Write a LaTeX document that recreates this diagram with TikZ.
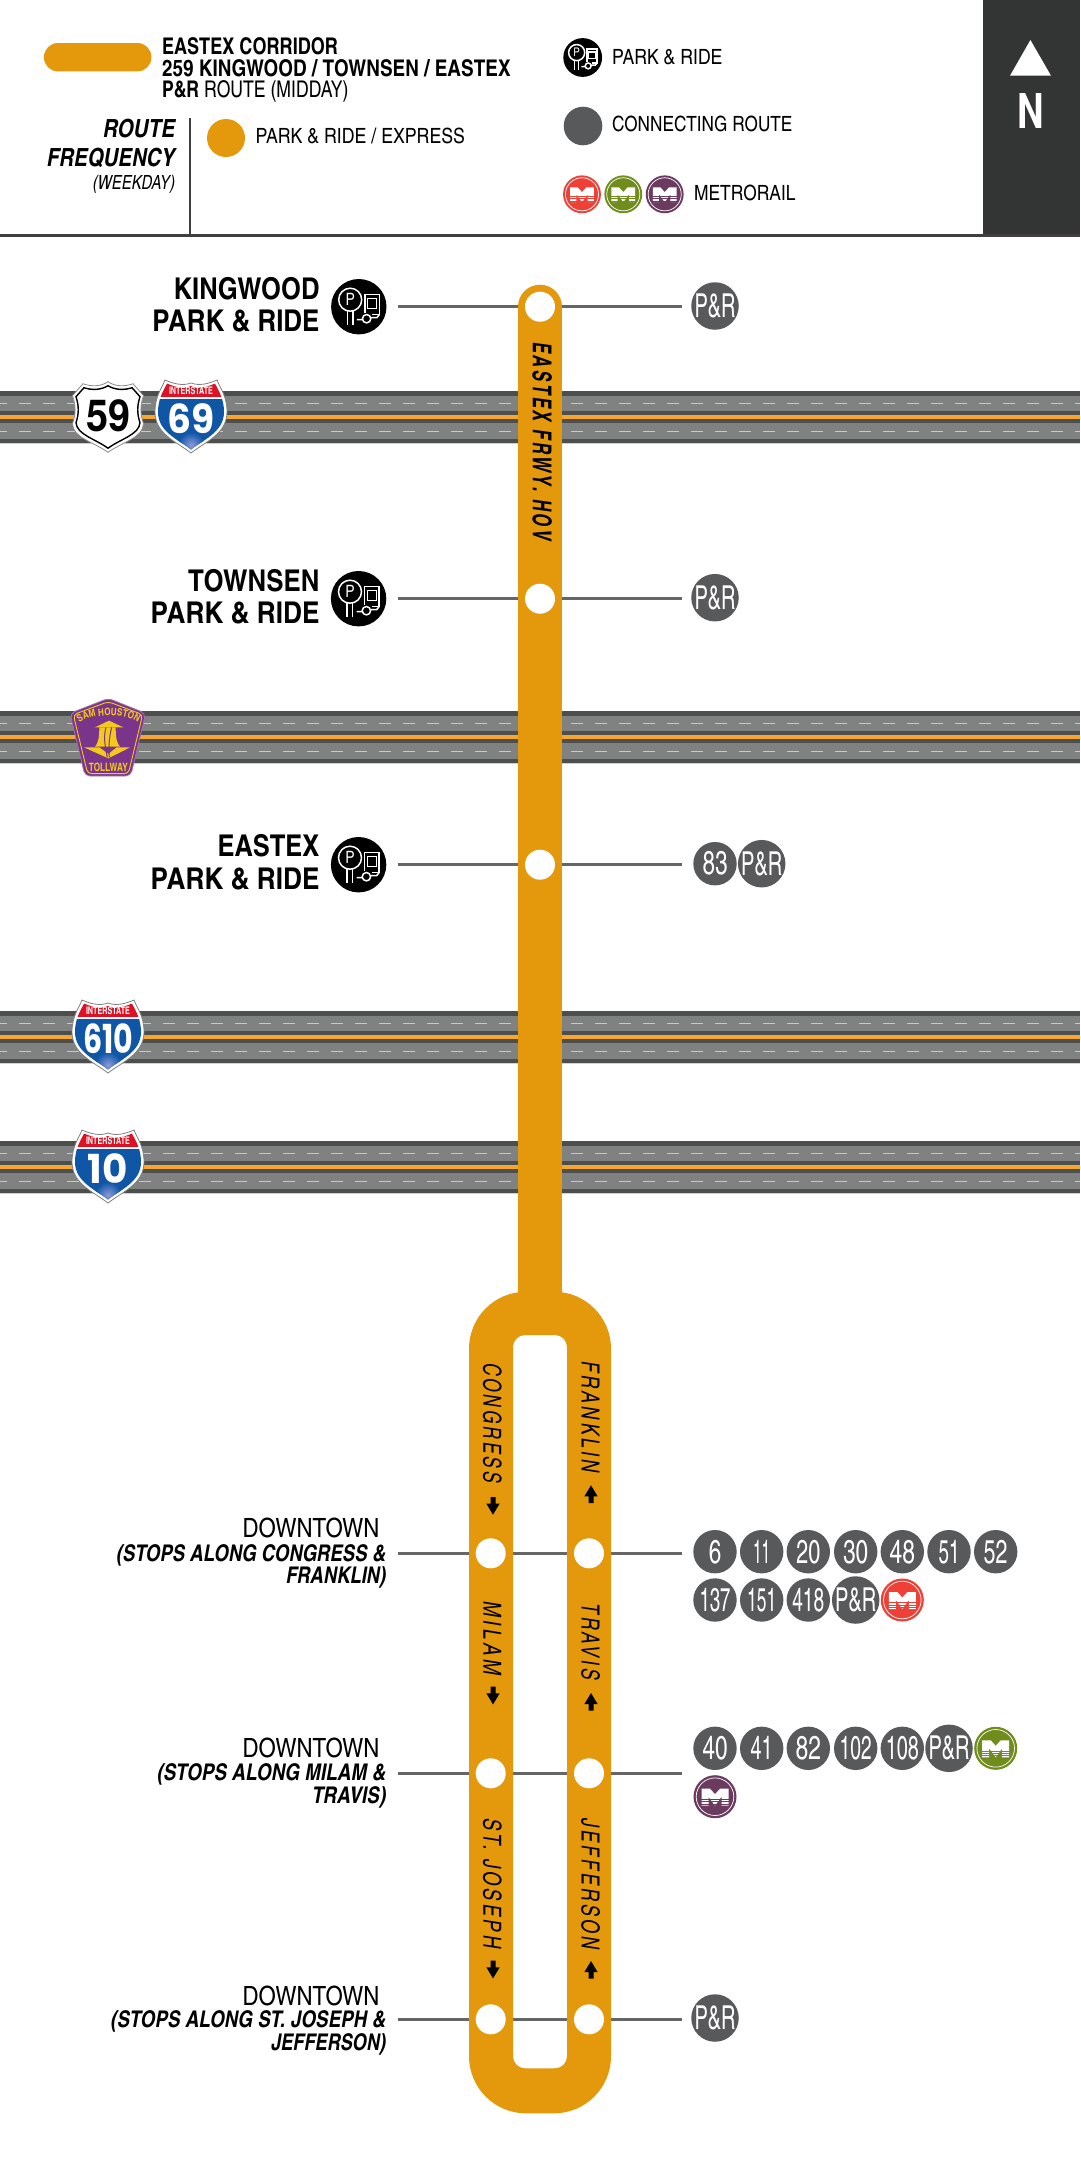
\documentclass[tikz,border=0pt]{standalone}
\usepackage{graphicx}
\usepackage{fontspec}
\setmainfont{TeX Gyre Heros Cn}
\newfontfamily\wideface{TeX Gyre Heros}
\newfontfamily\roundface{Poppins}
\usetikzlibrary{decorations.text}
\definecolor{routeor}{HTML}{E4990C}
\definecolor{roador}{HTML}{F7A72F}
\definecolor{roaddk}{HTML}{4D4E4E}
\definecolor{roadgr}{HTML}{7F8281}
\definecolor{dashgr}{HTML}{C8C8C8}
\definecolor{hdrdk}{HTML}{333434}
\definecolor{spurgr}{HTML}{666666}
\definecolor{badgegr}{HTML}{58595B}
\definecolor{mred}{HTML}{EE4037}
\definecolor{mgreen}{HTML}{6F8C1C}
\definecolor{mpurple}{HTML}{6B3A5F}
\definecolor{isred}{HTML}{DC1224}
\definecolor{isblue}{HTML}{0F56A6}
\definecolor{ispale}{HTML}{8C9AD8}
\definecolor{shpurple}{HTML}{7A358A}
\definecolor{shyellow}{HTML}{F4C91C}
\newcommand{\fw}[3]{\resizebox{#1pt}{\height}{\fontsize{#2pt}{#2pt}\selectfont #3}}
\newcommand{\spaced}{\addfontfeature{LetterSpace=14}}
\tikzset{
  txt/.style={inner sep=0pt,outer sep=0pt,text=black},
  spur/.style={draw=spurgr,line width=2.7pt},
  routeline/.style={draw=routeor,line width=44pt,line cap=round},
  stopdot/.style={circle,fill=white,inner sep=0pt,minimum size=30pt},
  badge/.style={circle,fill=badgegr,inner sep=0pt,minimum size=43.4pt,text=white},
  blackdot/.style={circle,fill=black,inner sep=0pt},
  linetxt/.style={inner sep=0pt,outer sep=0pt,rotate=-90,text=black},
}
% route badge: name, x, y, text width, text
\newcommand{\rt}[5]{\node[badge] (#1) at (#2,#3) {\fw{#4}{33}{#5}};}
% metro badge
\newcommand{\metro}[5]{%
  \pgfmathsetmacro{\msz}{43*#4}%
  \node[circle,fill=#5,inner sep=0pt,minimum size=\msz pt] (#1) at (#2,#3) {};
  \begin{scope}[shift={(#2,#3)},scale=#4]
    \draw[white,line width=.7pt] (0,0) circle (18.8);
    \fill[white] (-13.5,-8)--(-5,-8)--(0,-2.5)--(5,-8)--(13.5,-8)--(13.5,9)--(6.5,9)--(6.5,0)--(0,9)--(-6.5,0)--(-6.5,9)--(-13.5,9)--cycle;
    \foreach \yy in {2.5,5,7.4}{\draw[#5,line width=.6pt] (-14,\yy)--(14,\yy);}
  \end{scope}}
% park and ride icon
\newcommand{\picon}[4]{%
  \pgfmathsetmacro{\psz}{55.4*#4}%
  \pgfmathsetmacro{\pfs}{17*#4}%
  \node[blackdot,minimum size=\psz pt] (#1) at (#2,#3) {};
  \begin{scope}[shift={(#2,#3)},scale=#4,white]
    \draw[line width=1.5pt] (-8.6,-7) circle (11.5);
    \node[inner sep=0pt,text=white] (#1p) at (-8.6,-7) {\fontsize{\pfs pt}{10pt}\selectfont P};
    \draw[line width=1.5pt] (-11.4,4.5)--(-11.4,18) (-6,4.5)--(-6,18);
    \draw[line width=1.5pt] (6,-12) rectangle (20.5,8);
    \draw[line width=1.2pt] (8.5,-8) rectangle (18,1.5);
    \fill[black] (2.5,6) rectangle (13,19);
    \draw[line width=1.5pt] (7.8,12) circle (4.2);
    \draw[line width=1.5pt] (-2,13)--(3.5,13) (12,11)--(18,11)--(20.5,8);
  \end{scope}}
% interstate shield: name, cx, top, number, number width
\newcommand{\shieldpath}{(-26,0) .. controls (-17,4) and (-8,6) .. (0,3) .. controls (8,6) and (17,4) .. (26,0) .. controls (29,8) and (36,16) .. (36,32) .. controls (36,54) and (14,62) .. (0,73) .. controls (-14,62) and (-36,54) .. (-36,32) .. controls (-36,16) and (-29,8) .. (-26,0) -- cycle}
\newcommand{\shieldin}{(-24,3.5) .. controls (-16,7) and (-8,9) .. (0,6) .. controls (8,9) and (16,7) .. (24,3.5) .. controls (27,10) and (33,18) .. (33,32) .. controls (33,52) and (12,60) .. (0,69.5) .. controls (-12,60) and (-33,52) .. (-33,32) .. controls (-33,18) and (-27,10) .. (-24,3.5) -- cycle}
\newcommand{\ishield}[4]{%
  \begin{scope}[shift={(#2,#3)}]
    \fill[white,draw=black!50,line width=.8pt] \shieldpath;
    \begin{scope}
      \clip \shieldin;
      \fill[isred] (-40,0) rectangle (40,17);
      \fill[isblue] (-40,19) rectangle (40,75);
      \shade[inner color=ispale,outer color=isblue,shading=radial] (0,65) circle (13);
    \end{scope}
    \node[inner sep=0pt,text=white] (#1a) at (0,11) {\fw{44}{10.5}{\bfseries INTERSTATE}};
    \node[inner sep=0pt,text=white] (#1b) at (0,38.5) {\fw{#4}{40}{\roundface\bfseries #1}};
  \end{scope}}
\begin{document}
\begin{tikzpicture}[x=1pt,y=-1pt]
\useasboundingbox (0,0) rectangle (1080,2161);
\fill[white] (0,0) rectangle (1080,2161);
% roads
\foreach \cy in {417,737,1037,1167}{
  \fill[roaddk] (0,\cy-26) rectangle (1080,\cy+25.7);
  \fill[black!18] (0,\cy+25.7) rectangle (1080,\cy+27);
  \fill[roadgr] (0,\cy-21.3) rectangle (1080,\cy-6);
  \fill[roadgr] (0,\cy+6.3) rectangle (1080,\cy+22.3);
  \fill[roador] (0,\cy-2) rectangle (1080,\cy+2);
  \draw[dashgr,line width=1pt,dash pattern=on 12pt off 12pt,dash phase=5pt] (0,\cy-13.7)--(1080,\cy-13.7);
  \draw[dashgr,line width=1pt,dash pattern=on 12pt off 12pt,dash phase=5pt] (0,\cy+14.3)--(1080,\cy+14.3);
}
% header
\fill[hdrdk] (982.5,0) rectangle (1080,236);
\draw[black!75,line width=3pt] (0,235.5)--(1080,235.5);
\draw[black!75,line width=2.5pt] (190,118)--(190,235);
\node[fill=routeor,rounded corners=14pt,inner sep=0pt,minimum width=107.5pt,minimum height=28.4pt] (pill) at (97.7,57.2) {};
\node[txt,anchor=base west] (l1) at (162,54) {\fw{176}{23}{\bfseries EASTEX CORRIDOR}};
\node[txt,anchor=base west] (l2) at (162,76) {\fw{348.7}{23}{\bfseries 259 KINGWOOD / TOWNSEN / EASTEX}};
\node[txt,anchor=base west] (l3) at (162,97.7) {\fw{186.5}{23}{\textbf{P\&R} ROUTE (MIDDAY)}};
\node[txt,anchor=base east] (f1) at (175,137.7) {\fw{72}{25}{\bfseries\itshape ROUTE}};
\node[txt,anchor=base east] (f2) at (175,166.7) {\fw{128}{25}{\bfseries\itshape FREQUENCY}};
\node[txt,anchor=base east] (f3) at (175,189.3) {\fw{82}{19.5}{\itshape (WEEKDAY)}};
\node[circle,fill=routeor,inner sep=0pt,minimum size=38pt] (freqdot) at (226,138) {};
\node[txt,anchor=base west] (f4) at (255.5,143.3) {\fw{209.5}{21}{PARK \& RIDE / EXPRESS}};
\picon{legpr}{582.7}{57.5}{0.7}
\node[txt,anchor=base west] (lp) at (612,64) {\fw{110.5}{21}{PARK \& RIDE}};
\node[circle,fill=badgegr,inner sep=0pt,minimum size=38.6pt] (legcr) at (583,126) {};
\node[txt,anchor=base west] (lc) at (612,131.7) {\fw{180.4}{21}{CONNECTING ROUTE}};
\metro{legmr}{582}{194.3}{0.88}{mred}
\metro{legmg}{623.3}{194.3}{0.88}{mgreen}
\metro{legmp}{664.7}{194.3}{0.88}{mpurple}
\node[txt,anchor=base west] (lm) at (694,200.7) {\fw{101.5}{21}{METRORAIL}};
\fill[white] (1030.4,40)--(1051,75.7)--(1010,75.7)--cycle;
\node[inner sep=0pt,text=white,anchor=base] (north) at (1030.3,128) {\fw{26.5}{48}{\wideface\bfseries N}};
% stop positions
\coordinate (sK) at (540,306.7);
\coordinate (sT) at (540,598.7);
\coordinate (sE) at (540,864.7);
\coordinate (loopTop) at (540,1310);
\coordinate (d1L) at (490.7,1553.3);
\coordinate (d1R) at (589,1553.3);
\coordinate (d2L) at (490.7,1773.3);
\coordinate (d2R) at (589,1773.3);
\coordinate (d3L) at (490.7,2019.3);
\coordinate (d3R) at (589,2019.3);
\coordinate (inK) at (397.5,306.7); \coordinate (outK) at (682,306.7);
\coordinate (inT) at (397.5,598.7); \coordinate (outT) at (682,598.7);
\coordinate (inE) at (397.5,864.7); \coordinate (outE) at (682,864.7);
\coordinate (inA) at (397.5,1553.3); \coordinate (outA) at (682,1553.3);
\coordinate (inB) at (397.5,1773.3); \coordinate (outB) at (682,1773.3);
\coordinate (inC) at (397.5,2019.3); \coordinate (outC) at (682,2019.3);
% spurs
\draw[spur] (inK)--(outK);
\draw[spur] (inT)--(outT);
\draw[spur] (inE)--(outE);
\draw[spur] (inA)--(outA);
\draw[spur] (inB)--(outB);
\draw[spur] (inC)--(outC);
% route
\draw[routeline] (sK)--(loopTop);
\fill[routeor,even odd rule,rounded corners=57pt] (469,1291.7) rectangle (611,2113.3) [rounded corners=12pt] (513,1335) rectangle (567,2068.3);
% stops
\node[stopdot] (dotK) at (sK) {};
\node[stopdot] (dotT) at (sT) {};
\node[stopdot] (dotE) at (sE) {};
\node[stopdot] (dotAL) at (d1L) {};
\node[stopdot] (dotAR) at (d1R) {};
\node[stopdot] (dotBL) at (d2L) {};
\node[stopdot] (dotBR) at (d2R) {};
\node[stopdot] (dotCL) at (d3L) {};
\node[stopdot] (dotCR) at (d3R) {};
% labels along route
\node[linetxt] (lEast) at (542.3,441) {\fw{198}{26}{\bfseries\itshape\spaced EASTEX FRWY. HOV}};
\node[linetxt] (lCong) at (492.3,1423) {\fw{120}{25}{\itshape\spaced CONGRESS}};
\node[linetxt] (lFrank) at (590.7,1417) {\fw{112}{25}{\itshape\spaced FRANKLIN}};
\node[linetxt] (lMil) at (492.3,1638.3) {\fw{73.3}{25}{\itshape\spaced MILAM}};
\node[linetxt] (lTrav) at (590.5,1641.7) {\fw{76.7}{25}{\itshape\spaced TRAVIS}};
\node[linetxt] (lStj) at (492.3,1883.3) {\fw{130}{25}{\itshape\spaced ST. JOSEPH}};
\node[linetxt] (lJeff) at (590.5,1883.8) {\fw{131}{25}{\itshape\spaced JEFFERSON}};
% direction arrows
\foreach \ax/\ay/\sc in {493/1497/1,493/1686.7/1,493/1960.7/1,591/1503/-1,591/1710.7/-1,591/1978.7/-1}{
  \fill[black,shift={(\ax,\ay)},yscale=\sc] (-2.5,0)--(2.5,0)--(2.5,6.7)--(6.6,6.7)--(0,17.7)--(-6.6,6.7)--(-2.5,6.7)--cycle;
}
% station labels
\node[txt,anchor=base east] (kw1) at (319.5,299.3) {\fw{145.8}{30}{\bfseries KINGWOOD}};
\node[txt,anchor=base east] (kw2) at (319.5,331) {\fw{167}{30}{\bfseries PARK \& RIDE}};
\picon{prK}{358.8}{306.7}{1}
\node[txt,anchor=base east] (tw1) at (319.5,591) {\fw{131.4}{30}{\bfseries TOWNSEN}};
\node[txt,anchor=base east] (tw2) at (319.5,623.3) {\fw{168.8}{30}{\bfseries PARK \& RIDE}};
\picon{prT}{358.6}{598.7}{1}
\node[txt,anchor=base east] (ex1) at (319.5,856.7) {\fw{102}{30}{\bfseries EASTEX}};
\node[txt,anchor=base east] (ex2) at (319.5,889) {\fw{168.8}{30}{\bfseries PARK \& RIDE}};
\picon{prE}{358.6}{864.7}{1}
\node[txt,anchor=base east] (dt1) at (379.5,1537.7) {\fw{137}{26.5}{DOWNTOWN}};
\node[txt,anchor=base east] (dt1a) at (386,1561) {\fw{269.3}{23}{\bfseries\itshape (STOPS ALONG CONGRESS \&}};
\node[txt,anchor=base east] (dt1b) at (386,1583.3) {\fw{100}{23}{\bfseries\itshape FRANKLIN)}};
\node[txt,anchor=base east] (dt2) at (379.5,1757) {\fw{137}{26.5}{DOWNTOWN}};
\node[txt,anchor=base east] (dt2a) at (386,1780.7) {\fw{228.7}{23}{\bfseries\itshape (STOPS ALONG MILAM \&}};
\node[txt,anchor=base east] (dt2b) at (386,1803.3) {\fw{74}{23}{\bfseries\itshape TRAVIS)}};
\node[txt,anchor=base east] (dt3) at (379.5,2005) {\fw{137}{26.5}{DOWNTOWN}};
\node[txt,anchor=base east] (dt3a) at (386,2027.7) {\fw{275}{23}{\bfseries\itshape (STOPS ALONG ST. JOSEPH \&}};
\node[txt,anchor=base east] (dt3b) at (386,2050) {\fw{115}{23}{\bfseries\itshape JEFFERSON)}};
% connecting routes
\rt{pr1}{715}{306}{41}{P\&R}
\rt{pr2}{715}{597.7}{41}{P\&R}
\rt{r83}{715}{863.7}{25}{83}
\rt{pr3}{761.7}{863.7}{41}{P\&R}
\rt{r6}{715}{1551.7}{12.5}{6}
\rt{r11}{761.7}{1551.7}{17}{11}
\rt{r20}{808.3}{1551.7}{24}{20}
\rt{r30}{855.7}{1551.7}{25}{30}
\rt{r48}{902.3}{1551.7}{25.5}{48}
\rt{r51}{949}{1551.7}{21}{51}
\rt{r52}{995.7}{1551.7}{24}{52}
\rt{r137}{715}{1600}{31}{137}
\rt{r151}{761.7}{1600}{29}{151}
\rt{r418}{808.3}{1600}{32}{418}
\rt{pr4}{855.7}{1600}{41}{P\&R}
\metro{mA}{902.3}{1600}{1}{mred}
\rt{r40}{715}{1748.3}{25}{40}
\rt{r41}{761.7}{1748.3}{22}{41}
\rt{r82}{808.3}{1748.3}{25.5}{82}
\rt{r102}{855.7}{1748.3}{32}{102}
\rt{r108}{902.3}{1748.3}{33}{108}
\rt{pr5}{949}{1748.3}{41}{P\&R}
\metro{mB}{995.7}{1748.3}{1}{mgreen}
\metro{mC}{715}{1796.7}{1}{mpurple}
\rt{pr6}{715}{2018}{41}{P\&R}
% US 59 shield
\begin{scope}[shift={(108,381.7)}]
  \fill[white,draw=black!45,line width=.8pt] (-25,2) .. controls (-17,5) and (-7,5) .. (0,0) .. controls (7,5) and (17,5) .. (25,2) -- (35.5,14) .. controls (32,24) and (32,32) .. (35.5,42) .. controls (35,56) and (15,60) .. (0,70.6) .. controls (-15,60) and (-35,56) .. (-35.5,42) .. controls (-32,32) and (-32,24) .. (-35.5,14) -- cycle;
  \draw[black,line width=1.4pt] (-24,6) .. controls (-17,8.5) and (-7,8.5) .. (0,4) .. controls (7,8.5) and (17,8.5) .. (24,6) -- (32,15) .. controls (29,24) and (29,32) .. (32,41) .. controls (31,53) and (13,57) .. (0,66.5) .. controls (-13,57) and (-31,53) .. (-32,41) .. controls (-29,32) and (-29,24) .. (-32,15) -- cycle;
  \node[inner sep=0pt,text=black] (us59) at (0,34.5) {\fw{44}{44}{\wideface\bfseries 59}};
\end{scope}
\ishield{69}{191}{380}{47}
\ishield{610}{108}{1000}{50}
\ishield{10}{108}{1130}{40}
% Sam Houston shield
\begin{scope}[shift={(0,680)},xscale=1/3,yscale=1/3]
  \fill[shpurple,draw=shpurple!70,line width=.8pt,rounded corners=5pt] (325,55)--(210,100)--(255,288)--(392,288)--(437,100)--cycle;
  \draw[shyellow,line width=.9pt,rounded corners=4pt] (325,65)--(220,104)--(263,281)--(385,281)--(428,104)--cycle;
  \path[decorate,decoration={text along path,text align=center,text color=shyellow,text={|\bfseries\fontsize{10pt}{10pt}\selectfont|SAM HOUSTON}}] (232,132) .. controls (270,98) and (380,98) .. (420,132);
  \node[inner sep=0pt,text=shyellow] (tollway) at (325,263) {\fw{39}{11.5}{\bfseries TOLLWAY}};
  \fill[shyellow] (285,142)--(327,122)--(370,142)--cycle;
  \fill[shyellow] (298,142) .. controls (298,170) and (295,190) .. (285,200)--(360,200) .. controls (350,190) and (347,170) .. (347,142)--cycle;
  \fill[shyellow] (252,202)--(298,202)--(325,222)--(350,202)--(390,202)--(325,235)--cycle;
  \draw[shpurple,line width=1pt] (318,142) .. controls (310,170) and (315,200) .. (322,232);
  \draw[shpurple,line width=1pt] (335,142) .. controls (328,170) and (325,200) .. (328,232);
\end{scope}
\end{tikzpicture}
\end{document}
